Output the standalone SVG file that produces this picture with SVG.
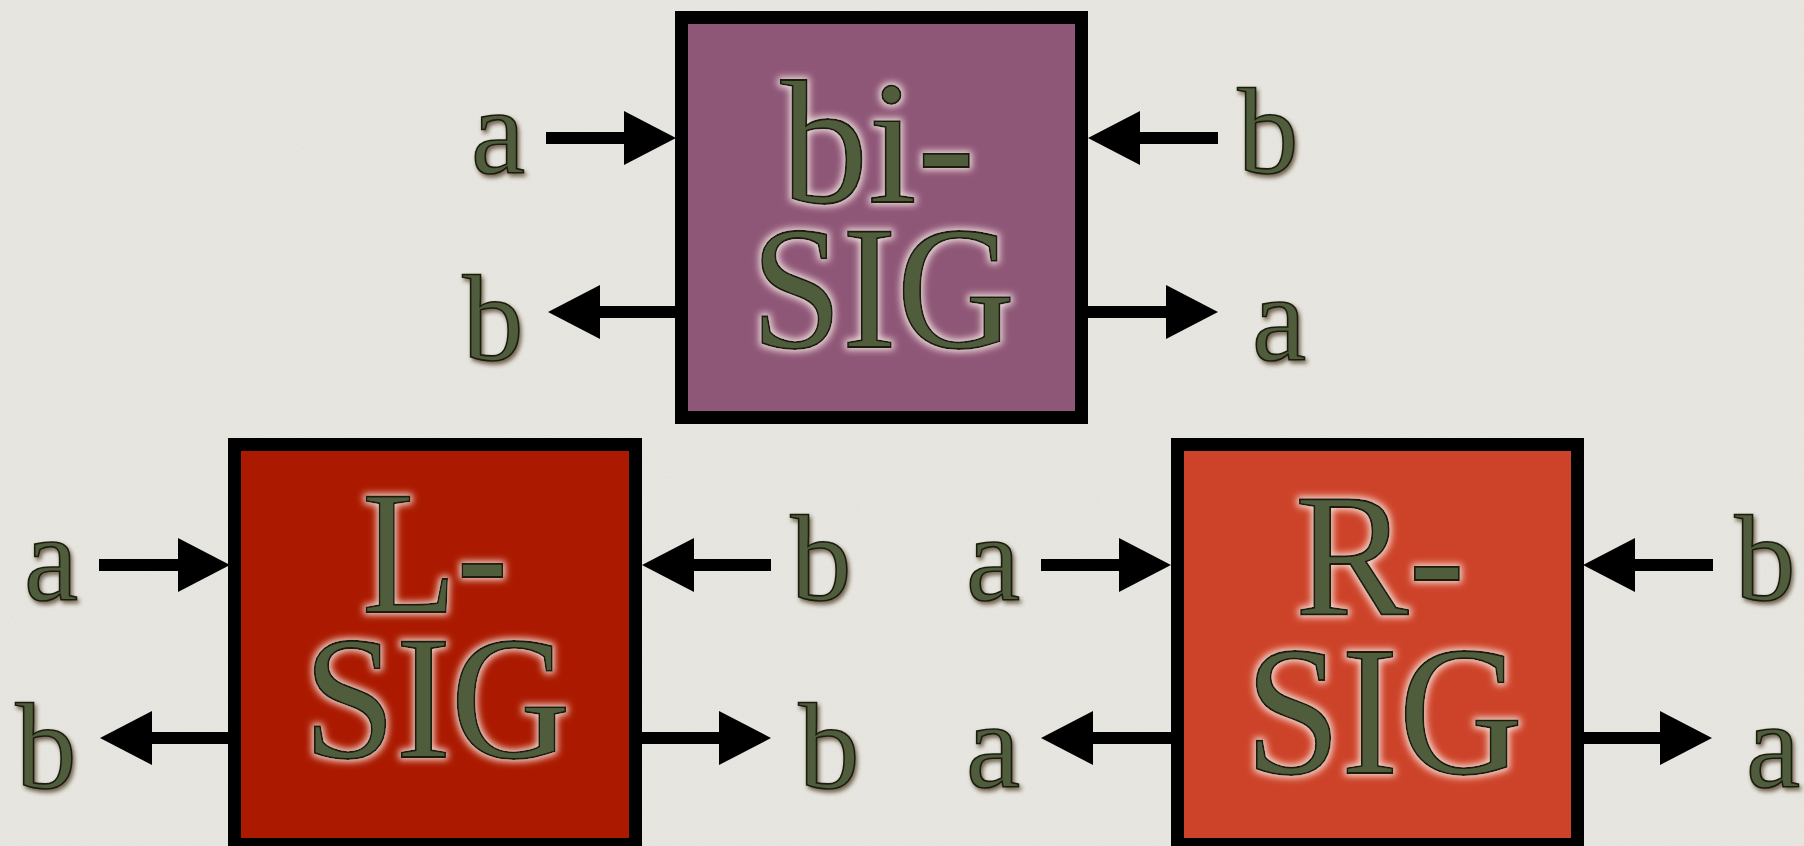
<svg xmlns="http://www.w3.org/2000/svg" width="1804" height="846" viewBox="0 0 1804 846">
<style>
.box{stroke:#000;stroke-width:13}
.big{font-size:175px;fill:#4F5D3E;stroke:#1a1c10;stroke-width:1.8;text-anchor:middle;filter:url(#glow)}
.lbl{font-size:122px;fill:#4F5D3E;stroke:#1a1c10;stroke-width:1.6;text-anchor:middle;filter:url(#shadow)}
.arr{stroke:#000;stroke-width:12;fill:none;marker-end:url(#head)}
</style>
<defs>
<marker id="head" markerUnits="userSpaceOnUse" markerWidth="53" markerHeight="55" refX="0" refY="27" orient="auto" overflow="visible">
<path d="M0,0 L52,27 L0,54 Z" fill="#000"/>
</marker>
<filter id="glow" x="-20%" y="-20%" width="140%" height="140%">
<feMorphology in="SourceAlpha" operator="dilate" radius="2" result="d"/>
<feGaussianBlur in="d" stdDeviation="3.5" result="b"/>
<feFlood flood-color="#fff4ee" flood-opacity="0.85"/>
<feComposite in2="b" operator="in" result="g"/>
<feMerge><feMergeNode in="g"/><feMergeNode in="SourceGraphic"/></feMerge>
</filter>
<filter id="shadow" x="-30%" y="-30%" width="160%" height="160%">
<feDropShadow dx="2" dy="3" stdDeviation="2" flood-color="#3a2810" flood-opacity="0.7"/>
</filter>
<filter id="paper" x="0" y="0" width="100%" height="100%">
<feTurbulence type="fractalNoise" baseFrequency="0.9" numOctaves="2" seed="3" result="n"/>
<feColorMatrix in="n" type="matrix" values="0 0 0 0 0.55  0 0 0 0 0.54  0 0 0 0 0.5  0 0 0 0.18 0"/>
</filter>
</defs>
<rect width="1804" height="846" fill="#EAE8E2"/>
<rect width="1804" height="846" filter="url(#paper)"/>

<g id="connectors">
<line class="arr" x1="546" y1="138" x2="624" y2="138"/>
<line class="arr" x1="1218" y1="138" x2="1140" y2="138"/>
<line class="arr" x1="675" y1="312" x2="600" y2="312"/>
<line class="arr" x1="1088" y1="312" x2="1166" y2="312"/>

<line class="arr" x1="99" y1="565" x2="178" y2="565"/>
<line class="arr" x1="771" y1="565" x2="694" y2="565"/>
<line class="arr" x1="228" y1="738" x2="152" y2="738"/>
<line class="arr" x1="642" y1="738" x2="719" y2="738"/>

<line class="arr" x1="1041" y1="565" x2="1119" y2="565"/>
<line class="arr" x1="1713" y1="565" x2="1635" y2="565"/>
<line class="arr" x1="1171" y1="738" x2="1093" y2="738"/>
<line class="arr" x1="1583" y1="738" x2="1660" y2="738"/>
</g>

<g font-family="'Liberation Serif', 'Times New Roman', serif">
<g id="bi-sig">
<rect class="box" x="681.5" y="17.5" width="400" height="400" fill="#8F5777"/>
<text class="big" x="878" y="202">bi-</text>
<text class="big" x="883" y="347" textLength="264" lengthAdjust="spacingAndGlyphs">SIG</text>
</g>
<g id="bi-labels">
<text class="lbl" x="498" y="173">a</text>
<text class="lbl" x="1268" y="173">b</text>
<text class="lbl" x="493" y="360">b</text>
<text class="lbl" x="1279" y="360">a</text>
</g>

<g id="l-sig">
<rect class="box" x="234.5" y="444.5" width="401" height="400" fill="#AB1A00"/>
<text class="big" x="435" y="612" textLength="146" lengthAdjust="spacingAndGlyphs">L-</text>
<text class="big" x="437" y="757" textLength="267" lengthAdjust="spacingAndGlyphs">SIG</text>
</g>
<g id="l-labels">
<text class="lbl" x="51" y="600">a</text>
<text class="lbl" x="821" y="600">b</text>
<text class="lbl" x="46" y="788">b</text>
<text class="lbl" x="829" y="788">b</text>
</g>

<g id="r-sig">
<rect class="box" x="1177.5" y="444.5" width="400" height="400" fill="#CD4329"/>
<text class="big" x="1380" y="615" textLength="170" lengthAdjust="spacingAndGlyphs">R-</text>
<text class="big" x="1384" y="773" style="font-size:185px" textLength="278" lengthAdjust="spacingAndGlyphs">SIG</text>
</g>
<g id="r-labels">
<text class="lbl" x="993" y="600">a</text>
<text class="lbl" x="1765" y="600">b</text>
<text class="lbl" x="993" y="787">a</text>
<text class="lbl" x="1773" y="787">a</text>
</g>
</g>
</svg>
